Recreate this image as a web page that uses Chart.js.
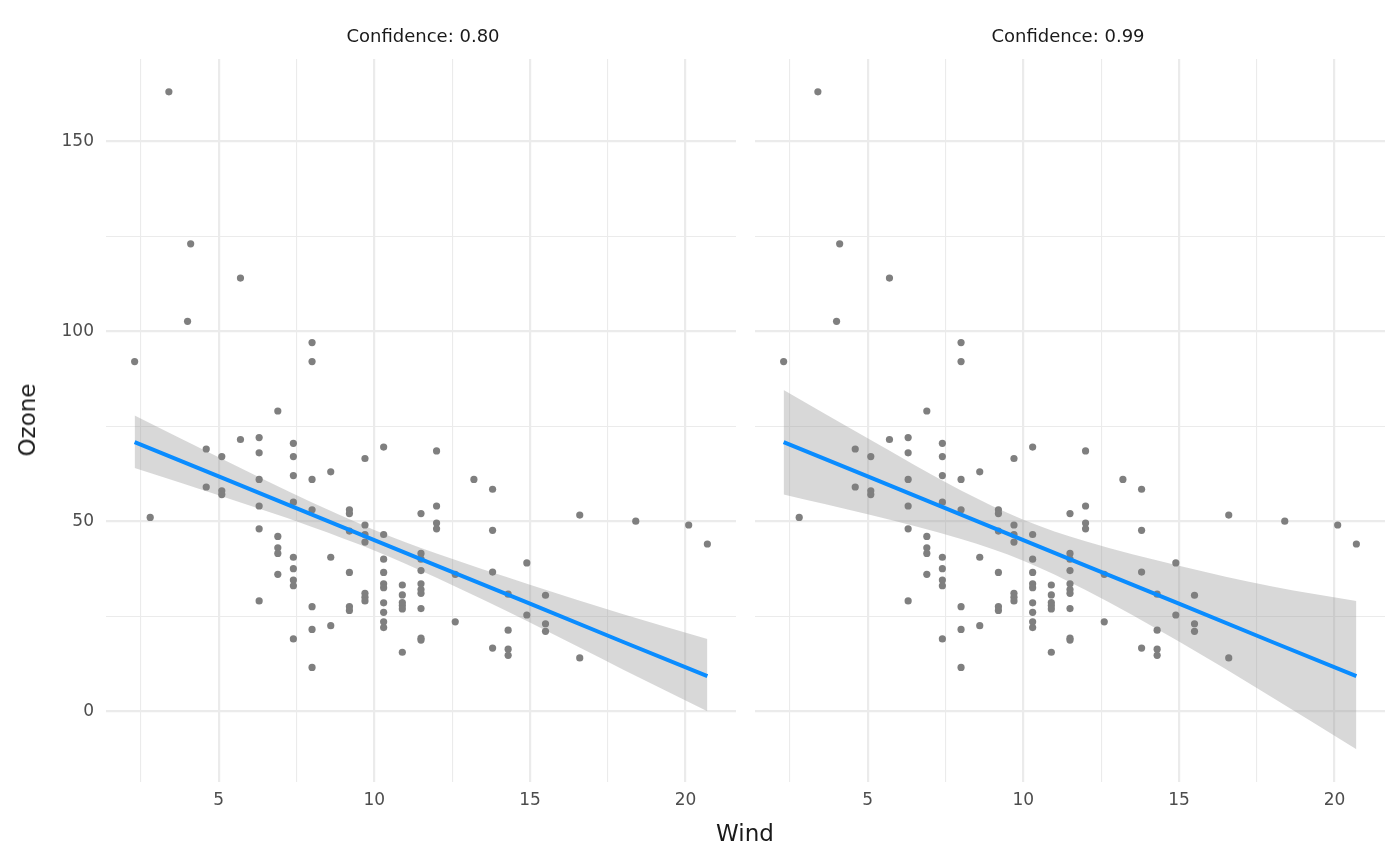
<!DOCTYPE html>
<html>
<head>
<meta charset="utf-8">
<script src="https://cdn.jsdelivr.net/npm/chart.js@4"></script>
<style>
  body { margin: 0; background: #fff; font-family: "DejaVu Sans", sans-serif; }
  #wrap { position: relative; width: 1400px; height: 866px; }
  canvas { position: absolute; top: 0; }
  .lbl { position: absolute; color: #1a1a1a; white-space: nowrap; }
</style>
</head>
<body>
<div id="wrap">
  <canvas id="left" style="left:0"></canvas>
  <canvas id="right" style="left:751px"></canvas>
  <div class="lbl" style="left:423px;top:25px;font-size:18px;transform:translateX(-50%)">Confidence: 0.80</div>
  <div class="lbl" style="left:1068px;top:25px;font-size:18px;transform:translateX(-50%)">Confidence: 0.99</div>
  <div class="lbl" style="left:745px;top:820px;font-size:23px;transform:translateX(-50%)">Wind</div>
  <div class="lbl" style="left:27px;top:420px;font-size:23px;transform:translate(-50%,-50%) rotate(-90deg)">Ozone</div>
</div>
<script>
const wind = [3.4,4.1,4.0,5.7,2.3,8.0,8.0,2.8,4.6,4.6,5.1,5.1,5.1,5.7,6.3,6.3,6.3,6.3,6.3,6.3,
  6.9,6.9,6.9,6.9,6.9,7.4,7.4,7.4,7.4,7.4,7.4,7.4,7.4,7.4,8.0,8.0,8.0,8.0,8.0,8.6,8.6,8.6,
  9.2,9.2,9.2,9.2,9.2,9.2,9.7,9.7,9.7,9.7,9.7,9.7,9.7,10.3,10.3,10.3,10.3,10.3,10.3,10.3,10.3,10.3,10.3,
  10.9,10.9,10.9,10.9,10.9,10.9,11.5,11.5,11.5,11.5,11.5,11.5,11.5,11.5,11.5,11.5,
  12.0,12.0,12.0,12.0,12.6,12.6,13.2,13.8,13.8,13.8,13.8,14.3,14.3,14.3,14.3,14.9,14.9,
  15.5,15.5,15.5,16.6,16.6,18.4,20.1,20.7];
const ozone = [163,123,102.6,114,92,97,92,51,69,59,67,58,57,71.5,72,68,61,54,48,29,
  79,46,43,41.5,36,70.5,67,62,55,40.5,37.5,34.5,33,19,61,53,27.5,21.5,11.5,63,40.5,22.5,
  53,52,47.4,36.5,27.5,26.5,66.5,49,46.5,44.5,31,30,29,69.5,46.5,40,36.5,33.5,32.5,28.5,26,23.5,22,
  33.2,30.6,28.6,27.8,26.9,15.5,52,41.5,40,37,33.5,32,31,27,19.2,18.7,
  68.5,54,49.5,48,36,23.5,61,58.4,47.6,36.6,16.6,30.8,21.3,16.3,14.7,39,25.3,
  30.5,23,21,51.6,14,50,49,44];
const fitX = [2.3,5,8,10,12,15,18,20.7];
const fitY = [70.8,61.8,51.7,45,38.3,28.3,18.2,9.2];
const band80Hi = [77.8,66.8,54.9,47.7,41.5,33.3,25.5,19.0];
const band80Lo = [64.0,56.8,48.5,42.3,35.1,23.3,10.9,0.0];
const band99Hi = [84.5,71.8,58.1,50.4,44.7,38.3,32.8,29.0];
const band99Lo = [57.0,51.8,45.3,39.6,31.9,18.3,3.6,-10.0];

const pts = wind.map((w, i) => ({x: w, y: ozone[i]}));
const xy = (ys) => fitX.map((x, i) => ({x: x, y: ys[i]}));
const grid = (major) => ({
  color: '#ebebeb',
  lineWidth: (c) => major.includes(c.tick.value) ? 2.2 : 1.1,
  drawTicks: false
});
const xMajor = [5,10,15,20], yMajor = [0,50,100,150];

function makeChart(id, width, hi, lo, showY) {
  const cv = document.getElementById(id);
  cv.width = width; cv.height = 866;
  cv.style.width = width + 'px'; cv.style.height = '866px';
  new Chart(cv, {
    type: 'scatter',
    data: { datasets: [
      { data: xy(hi), showLine: true, borderWidth: 0, pointRadius: 0, fill: '+1',
        cubicInterpolationMode: 'monotone',
        backgroundColor: 'rgba(153,153,153,0.38)', order: 3 },
      { data: xy(lo), showLine: true, borderWidth: 0, pointRadius: 0, fill: false,
        cubicInterpolationMode: 'monotone', order: 3 },
      { data: pts, pointRadius: 3.6, pointBackgroundColor: '#7f7f7f', pointBorderWidth: 0, order: 2 },
      { data: xy(fitY), showLine: true, borderColor: '#0a8cff', borderWidth: 4, pointRadius: 0, order: 1 }
    ]},
    options: {
      responsive: false, animation: false,
      layout: { padding: { top: 59, right: showY ? 0 : 15 } },
      plugins: { legend: { display: false }, tooltip: { enabled: false } },
      scales: {
        x: {
          min: 1.38, max: 21.62,
          afterBuildTicks: (s) => { s.ticks = [2.5,5,7.5,10,12.5,15,17.5,20].map(v => ({value: v})); },
          afterFit: (s) => { s.height = 84; },
          grid: grid(xMajor), border: { display: false },
          ticks: { padding: 8, color: '#4d4d4d', font: { size: 17, family: 'DejaVu Sans' },
            callback: (v) => xMajor.includes(v) ? v : '' }
        },
        y: {
          min: -18.65, max: 171.65,
          afterBuildTicks: (s) => { s.ticks = [0,25,50,75,100,125,150].map(v => ({value: v})); },
          afterFit: (s) => { s.width = showY ? 106 : 0; },
          grid: grid(yMajor), border: { display: false },
          ticks: { display: showY, padding: 12, color: '#4d4d4d', font: { size: 17, family: 'DejaVu Sans' },
            callback: (v) => yMajor.includes(v) ? v : '' }
        }
      }
    }
  });
}
makeChart('left', 740, band80Hi, band80Lo, true);
makeChart('right', 649, band99Hi, band99Lo, false);
</script>
</body>
</html>
